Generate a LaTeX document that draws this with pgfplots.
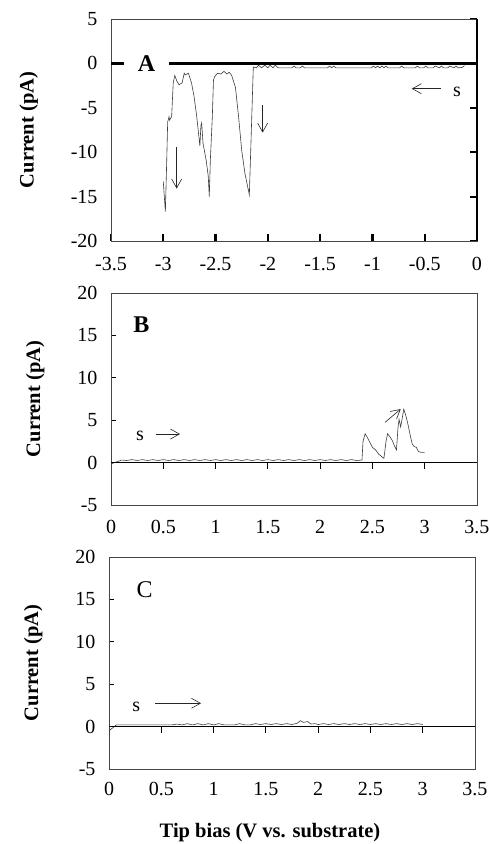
\documentclass[border=0pt]{standalone}
\usepackage{fontspec}
\setmainfont{Liberation Serif}
\usepackage{pgfplots}
\pgfplotsset{compat=1.18}
\usetikzlibrary{arrows.meta}

\definecolor{trace}{RGB}{60,60,60}
\definecolor{frame}{RGB}{70,70,70}

\tikzset{arr/.style={-{Straight Barb[length=9pt,width=10pt]}, line width=0.6pt, black!85}}

\pgfplotsset{
  panel/.style={
    anchor=north west, scale only axis, width=366pt,
    axis line style={frame, line width=0.8pt},
    tick style={black, line width=1pt},
    major tick length=5pt,
    tick label style={font=\fontsize{20}{22}\selectfont},
    label style={font=\fontsize{20.5}{22}\bfseries},
    ylabel style={yshift=26pt},
    clip=false,
  },
  zeroaxis/.style={
    anchor=north west, scale only axis, width=366pt,
    axis x line=middle, axis y line=none,
    axis line style={-, black, line width=0.7pt},
    xtick={0.5,1,...,3}, xticklabels={},
    tick align=outside, major tick length=6pt,
    tick style={black, line width=0.8pt},
  },
}

\begin{document}
\begin{tikzpicture}
\useasboundingbox (0pt,0pt) rectangle (489pt,-844pt);

% ---------------- panel A
\begin{axis}[panel, at={(111pt,-19pt)}, height=222pt,
  xmin=-3.5, xmax=0, ymin=-20, ymax=5,
  xtick={-3.5,-3,...,0},
  xticklabels={-3.5,-3,-2.5,-2,-1.5,-1,-0.5,0},
  ytick={-20,-15,...,5},
  yticklabels={-20,-15,-10,-5,0,5},
  xtick pos=bottom, ytick pos=right, yticklabel pos=left,
  tick align=inside,
  tick style={black, line width=2.2pt},
  major tick length=7pt,
  xticklabel style={yshift=-13pt},
  yticklabel style={xshift=-10pt},
  ylabel={Current (pA)},
]
\draw[line width=2.6pt] (axis cs:-3.5,0) -- (axis cs:0,0);
\draw[line width=1.6pt] (axis cs:0,-20) -- (axis cs:0,5);
\addplot[trace, line width=0.6pt] coordinates {
(-0.12,-0.25) (-0.14,-0.45) (-0.18,-0.5) (-0.2,-0.3) (-0.22,-0.5) (-0.26,-0.3) (-0.28,-0.5)
(-0.32,-0.5) (-0.34,-0.3) (-0.36,-0.5) (-0.4,-0.3) (-0.42,-0.5) (-0.47,-0.5) (-0.49,-0.3)
(-0.51,-0.5) (-0.55,-0.5) (-0.57,-0.3) (-0.59,-0.5) (-0.7,-0.5) (-0.72,-0.3) (-0.74,-0.5)
(-0.78,-0.5) (-0.85,-0.5) (-0.87,-0.3) (-0.89,-0.5) (-0.91,-0.3) (-0.93,-0.5) (-0.95,-0.3)
(-0.97,-0.5) (-0.99,-0.3) (-1.01,-0.5) (-1.05,-0.5) (-1.3,-0.5) (-1.35,-0.5) (-1.37,-0.3)
(-1.39,-0.5) (-1.41,-0.3) (-1.43,-0.5) (-1.6,-0.5) (-1.65,-0.5) (-1.67,-0.3) (-1.69,-0.5)
(-1.73,-0.5) (-1.75,-0.3) (-1.77,-0.5) (-1.8,-0.5) (-1.9,-0.5) (-1.93,-0.2) (-1.95,-0.5)
(-1.98,-0.2) (-2.0,-0.5) (-2.03,-0.2) (-2.06,-0.5) (-2.09,-0.2) (-2.11,-0.5) (-2.139,-0.4)
(-2.177,-14.8) (-2.219,-12.4) (-2.25,-9.8) (-2.28,-6.0) (-2.31,-2.7) (-2.346,-1.35)
(-2.37,-1.0) (-2.39,-1.2) (-2.42,-0.9) (-2.45,-1.2) (-2.48,-1.1) (-2.51,-1.5) (-2.52,-1.9)
(-2.531,-6.0) (-2.55,-10.9) (-2.56,-15.0) (-2.57,-12.7) (-2.59,-10.9) (-2.62,-9.0)
(-2.633,-6.7) (-2.64,-7.0) (-2.65,-9.3) (-2.66,-8.2) (-2.68,-6.0) (-2.706,-3.7)
(-2.73,-2.2) (-2.76,-1.1) (-2.79,-1.3) (-2.80,-1.1) (-2.82,-2.2) (-2.85,-2.4)
(-2.87,-2.0) (-2.89,-1.35) (-2.905,-2.2) (-2.92,-6.0) (-2.94,-6.4) (-2.945,-6.0)
(-2.958,-6.6) (-2.967,-10.9) (-2.98,-16.7) (-2.99,-15.0) (-3.0,-13.3)
};
\node[fill=white, inner sep=0pt, minimum width=45pt, minimum height=20pt,
  font=\fontsize{24}{26}\bfseries] at (axis cs:-3.16,0) {A};
\draw[arr] (axis cs:-0.347,-2.85) -- (axis cs:-0.624,-2.85);
\node[font=\fontsize{20}{22}\selectfont] at (axis cs:-0.19,-3.2) {s};
\draw[arr] (axis cs:-2.872,-9.4) -- (axis cs:-2.872,-14.1);
\draw[arr] (axis cs:-2.05,-4.7) -- (axis cs:-2.05,-7.8);
\end{axis}

% ---------------- panel B
\begin{axis}[panel, at={(111pt,-293pt)}, height=212pt,
  xmin=0, xmax=3.5, ymin=-5, ymax=20,
  xtick={0,0.5,...,3.5},
  xticklabels={0,0.5,1,1.5,2,2.5,3,3.5},
  ytick={-5,0,...,20},
  yticklabels={-5,0,5,10,15,20},
  xtick pos=bottom, ytick pos=left, yticklabel pos=left,
  xtick style={draw=none},
  tick align=inside,
  xticklabel style={yshift=-12pt},
  yticklabel style={xshift=-10pt},
  ylabel={Current (pA)},
]
\addplot[trace, line width=0.6pt] coordinates {
(0,-0.15) (0.08,0.2) (0.1,0.3) (0.15,0.25) (0.2,0.35) (0.25,0.25) (0.3,0.35) (0.35,0.25)
(0.4,0.35) (0.45,0.25) (0.5,0.35) (0.55,0.25) (0.6,0.35) (0.65,0.25) (0.7,0.35) (0.75,0.25)
(0.8,0.35) (0.85,0.25) (0.9,0.35) (0.95,0.25) (1.0,0.35) (1.05,0.25) (1.1,0.35) (1.15,0.25)
(1.2,0.35) (1.25,0.25) (1.3,0.35) (1.35,0.25) (1.4,0.35) (1.45,0.25) (1.5,0.35) (1.55,0.25)
(1.6,0.35) (1.65,0.25) (1.7,0.35) (1.75,0.25) (1.8,0.35) (1.85,0.25) (1.9,0.35) (1.95,0.25)
(2.0,0.35) (2.05,0.25) (2.1,0.35) (2.15,0.25) (2.2,0.35) (2.25,0.25) (2.3,0.35) (2.35,0.25)
(2.40,0.3) (2.41,2.5) (2.43,3.4) (2.45,3.0) (2.47,2.5) (2.50,1.8) (2.53,1.5) (2.56,1.0)
(2.59,0.7) (2.61,0.5) (2.63,2.5) (2.645,3.4) (2.67,3.0) (2.69,2.6) (2.71,2.0) (2.73,1.5)
(2.745,4.2) (2.755,5.1) (2.77,4.2) (2.79,5.6) (2.80,6.3) (2.82,5.5) (2.84,4.5) (2.86,3.3)
(2.88,2.2) (2.90,1.9) (2.92,1.8) (2.94,1.3) (2.97,1.2) (3.0,1.2)
};
\node[font=\fontsize{24}{26}\bfseries] at (axis cs:0.29,16.3) {B};
\node[font=\fontsize{20}{22}\selectfont] at (axis cs:0.277,3.1) {s};
\draw[arr] (axis cs:0.43,3.37) -- (axis cs:0.66,3.37);
\draw[arr] (axis cs:2.62,4.74) -- (axis cs:2.77,6.31);
\end{axis}
\begin{axis}[zeroaxis, at={(111pt,-293pt)}, height=212pt,
  xmin=0, xmax=3.5, ymin=-5, ymax=20]
\end{axis}

% ---------------- panel C
\begin{axis}[panel, at={(109pt,-557pt)}, height=212pt,
  xmin=0, xmax=3.5, ymin=-5, ymax=20,
  xtick={0,0.5,...,3.5},
  xticklabels={0,0.5,1,1.5,2,2.5,3,3.5},
  ytick={-5,0,...,20},
  yticklabels={-5,0,5,10,15,20},
  xtick pos=bottom, ytick pos=left, yticklabel pos=left,
  xtick style={draw=none},
  tick align=inside,
  xticklabel style={yshift=-10pt},
  yticklabel style={xshift=-10pt},
  ylabel={Current (pA)},
  xlabel={Tip bias (V vs. substrate)},
  xlabel style={xshift=-22pt, yshift=-20pt},
]
\addplot[trace, line width=0.6pt] coordinates {
(0,-0.5) (0.07,0.2) (0.15,0.2) (0.3,0.2) (0.5,0.2) (0.6,0.2) (0.65,0.3) (0.7,0.2) (0.75,0.35)
(0.8,0.2) (0.85,0.35) (0.9,0.2) (0.95,0.35) (1.0,0.2) (1.05,0.35) (1.1,0.2) (1.2,0.2)
(1.25,0.35) (1.3,0.2) (1.35,0.2) (1.4,0.35) (1.45,0.25) (1.5,0.35) (1.55,0.25) (1.6,0.35)
(1.65,0.25) (1.7,0.35) (1.75,0.25) (1.8,0.4) (1.83,0.7) (1.86,0.5) (1.9,0.6) (1.93,0.3)
(1.97,0.35) (2.0,0.25) (2.05,0.35) (2.1,0.25) (2.15,0.35) (2.2,0.25) (2.25,0.35) (2.3,0.25)
(2.35,0.35) (2.4,0.25) (2.45,0.35) (2.5,0.25) (2.55,0.35) (2.6,0.25) (2.65,0.35) (2.7,0.25)
(2.75,0.35) (2.8,0.25) (2.85,0.35) (2.9,0.25) (2.95,0.35) (3.0,0.25)
};
\node[font=\fontsize{24}{26}\selectfont] at (axis cs:0.34,16.1) {C};
\node[font=\fontsize{20}{22}\selectfont] at (axis cs:0.26,2.35) {s};
\draw[arr] (axis cs:0.44,2.75) -- (axis cs:0.88,2.75);
\end{axis}
\begin{axis}[zeroaxis, at={(109pt,-557pt)}, height=212pt,
  xmin=0, xmax=3.5, ymin=-5, ymax=20]
\end{axis}
\end{tikzpicture}
\end{document}
